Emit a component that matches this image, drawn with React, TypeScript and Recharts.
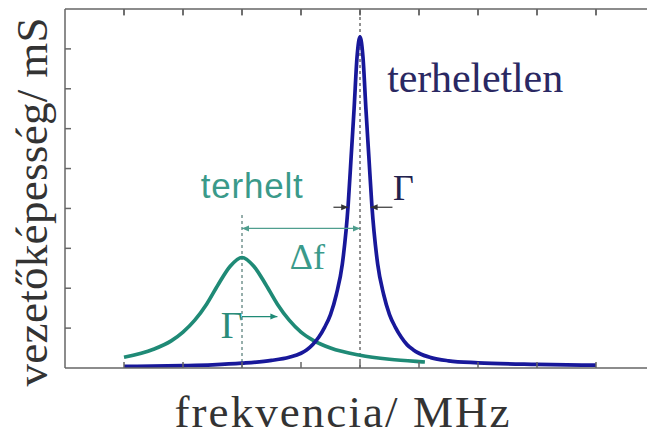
import { LineChart, Line, XAxis, YAxis, ReferenceLine, ReferenceDot } from 'recharts';

// frequency in tick units, conductance in tick units
const blueX = [1, 2, 2.5, 3, 3.5, 3.8, 4, 4.1, 4.2, 4.3, 4.4, 4.5, 4.6, 4.7, 4.8, 4.85, 4.9, 4.95, 5, 5.05, 5.1, 5.15, 5.2, 5.3, 5.4, 5.5, 5.6, 5.7, 5.8, 5.9, 6, 6.2, 6.5, 7, 8, 9];
const blueY = [0.04, 0.06, 0.08, 0.12, 0.19, 0.27, 0.37, 0.46, 0.59, 0.77, 1.02, 1.34, 1.85, 2.6, 4.1, 5.3, 6.5, 7.8, 8.3, 7.8, 6.5, 5.3, 4.1, 2.6, 1.85, 1.34, 1.02, 0.77, 0.58, 0.46, 0.37, 0.26, 0.18, 0.13, 0.09, 0.07];
const greenX = [1, 1.5, 1.8, 2, 2.2, 2.4, 2.6, 2.8, 3, 3.2, 3.4, 3.6, 3.8, 4, 4.2, 4.5, 5, 5.5, 6, 6.1];
const greenY = [0.27, 0.47, 0.68, 0.9, 1.2, 1.6, 2.1, 2.55, 2.77, 2.55, 2.1, 1.6, 1.2, 0.9, 0.7, 0.5, 0.32, 0.22, 0.16, 0.15];
const xTicks = [1, 2, 3, 4, 5, 6, 7, 8, 9];
const yTicks = [1, 2, 3, 4, 5, 6, 7, 8];

const unloaded = blueX.map((x, i) => ({ x, v: blueY[i] }));
const loaded = greenX.map((x, i) => ({ x, v: greenY[i] }));

const BLUE = '#18189a';
const GREEN = '#1f8a76';
const AXIS = '#666';

const noLabel = () => <g />;

const arrow = (color: string, atStart: boolean, atEnd: boolean) => (p: any) => {
  const { x1, y1, x2, y2 } = p;
  const dir = x2 > x1 ? 1 : -1;
  const head = (x: number, y: number, d: number) => (
    <polygon points={`${x},${y} ${x - d * 7},${y - 3} ${x - d * 7},${y + 3}`} fill={color} />
  );
  return (
    <g>
      <line x1={x1} y1={y1} x2={x2} y2={y2} stroke={color} strokeWidth={1.2} />
      {atStart && head(x1, y1, -dir)}
      {atEnd && head(x2, y2, dir)}
    </g>
  );
};

const label = (text: string, color: string, size: number, family: string, len?: number) => (p: any) => (
  <text x={p.cx} y={p.cy} fill={color} fontSize={size} fontFamily={family} textLength={len} lengthAdjust={len ? 'spacing' : undefined}>
    {text}
  </text>
);

const SERIF = '"Liberation Serif", "Times New Roman", serif';
const SANS = '"Liberation Sans", Arial, sans-serif';

export default function App() {
  return (
    <div style={{ position: 'fixed', left: 0, top: 0, width: 647, height: 437, overflow: 'hidden', background: '#fff' }}>
      <LineChart width={660} height={437} margin={{ top: 9, right: 5, bottom: 69, left: 65 }}>
        <XAxis xAxisId="b" type="number" dataKey="x" domain={[0, 10]} ticks={xTicks} orientation="bottom" height={1} mirror tick={noLabel} tickSize={6} stroke={AXIS} strokeWidth={1.5} allowDataOverflow />
        <XAxis xAxisId="t" type="number" dataKey="x" domain={[0, 10]} ticks={xTicks} orientation="top" height={1} mirror tick={noLabel} tickSize={6} stroke={AXIS} strokeWidth={1.5} allowDataOverflow />
        <YAxis yAxisId="l" type="number" domain={[0, 9]} ticks={yTicks} orientation="left" width={1} mirror tick={noLabel} tickSize={6} stroke={AXIS} strokeWidth={1.5} allowDataOverflow />
        <YAxis yAxisId="r" type="number" domain={[0, 9]} ticks={yTicks} orientation="right" width={1} mirror tick={noLabel} tickSize={6} stroke={AXIS} strokeWidth={1.5} allowDataOverflow />

        {/* inward tick marks along the top frame */}
        {xTicks.map((t) => (
          <ReferenceLine key={t} xAxisId="b" yAxisId="l" segment={[{ x: t, y: 9 }, { x: t, y: 8.84 }]} stroke={AXIS} strokeWidth={1.5} ifOverflow="visible" />
        ))}

        <ReferenceLine xAxisId="b" yAxisId="l" segment={[{ x: 5, y: 0 }, { x: 5, y: 9 }]} stroke="#222" strokeWidth={1} strokeDasharray="3 3" />
        <ReferenceLine xAxisId="b" yAxisId="l" segment={[{ x: 3, y: 0 }, { x: 3, y: 3.9 }]} stroke="#2f5f58" strokeWidth={1} strokeDasharray="3 3" />

        <Line xAxisId="b" yAxisId="l" data={loaded} dataKey="v" type="monotone" stroke={GREEN} strokeWidth={3.7} dot={false} isAnimationActive={false} />
        <Line xAxisId="b" yAxisId="l" data={unloaded} dataKey="v" type="monotone" stroke={BLUE} strokeWidth={3.7} dot={false} isAnimationActive={false} />

        <ReferenceLine xAxisId="b" yAxisId="l" segment={[{ x: 3, y: 3.5 }, { x: 5, y: 3.5 }]} shape={arrow('#4f9e8e', true, true)} />
        <ReferenceLine xAxisId="b" yAxisId="l" segment={[{ x: 4.55, y: 4.03 }, { x: 4.8, y: 4.03 }]} shape={arrow('#333', false, true)} />
        <ReferenceLine xAxisId="b" yAxisId="l" segment={[{ x: 5.55, y: 4.03 }, { x: 5.18, y: 4.03 }]} shape={arrow('#333', false, true)} />
        <ReferenceLine xAxisId="b" yAxisId="l" segment={[{ x: 3, y: 1.29 }, { x: 3.6, y: 1.29 }]} shape={arrow(GREEN, false, true)} />

        <ReferenceDot xAxisId="b" yAxisId="l" x={5.46} y={6.91} shape={label('terheletlen', '#2a2862', 42, SERIF, 176)} />
        <ReferenceDot xAxisId="b" yAxisId="l" x={2.3} y={4.26} shape={label('terhelt', '#3a9a8a', 35, SANS, 102)} />
        <ReferenceDot xAxisId="b" yAxisId="l" x={5.56} y={4.21} shape={label('Γ', '#22224e', 36, SERIF)} />
        <ReferenceDot xAxisId="b" yAxisId="l" x={3.81} y={2.47} shape={label('Δf', '#3a9a8a', 36, SERIF)} />
        <ReferenceDot xAxisId="b" yAxisId="l" x={2.64} y={0.76} shape={label('Γ', '#2a8c7a', 38, SERIF)} />
      </LineChart>
      <svg width={647} height={437} style={{ position: 'absolute', left: 0, top: 0, pointerEvents: 'none' }}>
        <text x={342} y={427} textAnchor="middle" fill="#333" fontSize={45} fontFamily={SERIF} textLength={335} lengthAdjust="spacing">
          frekvencia/ MHz
        </text>
        <text x={47} y={202} textAnchor="middle" fill="#333" fontSize={45} fontFamily={SERIF} textLength={369} lengthAdjust="spacing" transform="rotate(-90 47 202)">
          vezetőképesség/ mS
        </text>
      </svg>
    </div>
  );
}
